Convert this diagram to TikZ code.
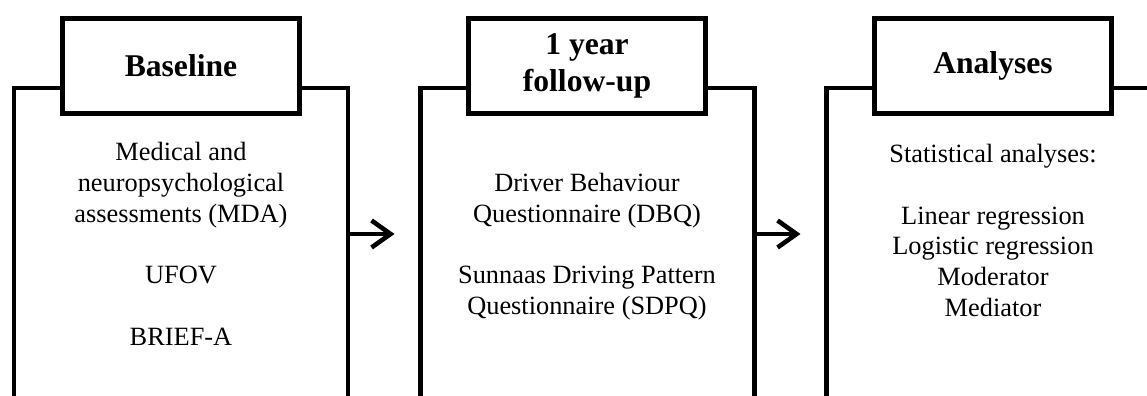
\documentclass[tikz,border=0pt]{standalone}
\usepackage{fontspec}
\setmainfont{Liberation Serif}
\usetikzlibrary{arrows.meta}

\begin{document}
\begin{tikzpicture}[
  panel/.style={draw, line width=2.6pt, anchor=north, outer sep=0pt, minimum width=6.68cm, minimum height=8cm},
  title/.style={draw, fill=white, line width=2.6pt, outer sep=0pt, minimum width=4.74cm, minimum height=1.9cm, align=center, font=\fontsize{18}{21}\selectfont\bfseries},
  body/.style={anchor=north, align=center, inner sep=0pt, font=\fontsize{15}{17.5}\selectfont},
  flow/.style={-{Straight Barb[length=3.8mm,width=5.4mm]}, line width=2.6pt, shorten >=0.52cm}]
\useasboundingbox (0,0) rectangle (22.94,-7.92);
\clip (0,0) rectangle (22.94,-7.92);
% panels, open at the bottom
\node[panel] (base) at (3.62,-1.76) {};
\node[panel] (follow) at (11.75,-1.76) {};
\node[panel] (anal) at (19.87,-1.76) {};
% titles
\node[title] (baseT) at (3.62,-1.315) {Baseline};
\node[title] (followT) at (11.74,-1.315) {1 year\\follow-up};
\node[title] (analT) at (19.86,-1.315) {Analyses};
% contents
\node[body] (baseB) at (3.62,-2.84) {Medical and\\neuropsychological\\assessments (MDA)\\[17.5pt]UFOV\\[17.5pt]BRIEF-A};
\node[body] (followB) at (11.74,-3.46) {Driver Behaviour\\Questionnaire (DBQ)\\[17.5pt]Sunnaas Driving Pattern\\Questionnaire (SDPQ)};
\node[body] (analB) at (19.86,-2.88) {Statistical analyses:\\[17.5pt]Linear regression\\Logistic regression\\Moderator\\Mediator};
% arrows
\draw[flow] ([yshift=-2.92cm]base.north east) -- ([yshift=-2.92cm]follow.north west);
\draw[flow] ([yshift=-2.92cm]follow.north east) -- ([yshift=-2.92cm]anal.north west);
\end{tikzpicture}
\end{document}
